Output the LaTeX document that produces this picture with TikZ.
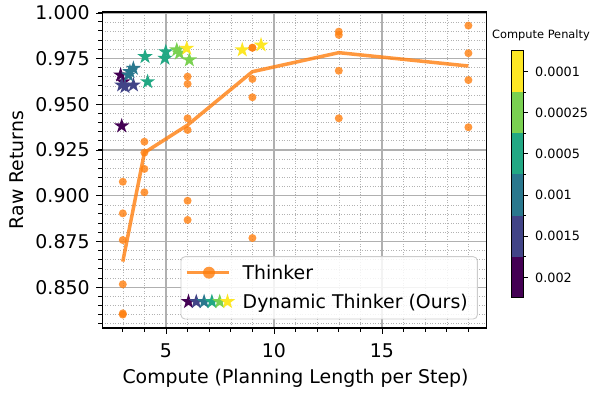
\documentclass[tikz,border=0pt]{standalone}
\usepackage{fontspec}
\setmainfont{DejaVu Sans}
\usetikzlibrary{shapes.geometric}
\definecolor{thk}{HTML}{FF7F0E}
\definecolor{va}{HTML}{440154}
\definecolor{vb}{HTML}{414487}
\definecolor{vc}{HTML}{2A788E}
\definecolor{vd}{HTML}{22A884}
\definecolor{ve}{HTML}{7AD151}
\definecolor{vf}{HTML}{FDE725}
\definecolor{gmaj}{HTML}{B0B0B0}
\begin{document}
\begin{tikzpicture}[x=1pt,y=-1pt,
  mainfont/.style={font=\fontsize{18.9pt}{22pt}\selectfont},
  cbfont/.style={font=\fontsize{12.8pt}{15pt}\selectfont},
  majgrid/.style={draw=gmaj, line width=1.3pt},
  mingrid/.style={draw=gray!60, line width=0.6pt, dash pattern=on 1pt off 1.6pt},
  tickline/.style={draw=black, line width=1pt},
  dot/.style={circle, fill=thk, fill opacity=0.8, minimum size=8pt, inner sep=0pt, outer sep=0pt},
  vstar/.style={star, star points=5, star point ratio=2.618, fill=#1, inner sep=0pt, outer sep=0pt, minimum size=16pt},
  thkline/.style={draw=thk, draw opacity=0.8, line width=3.5pt, line join=round},
  cbseg/.style={fill=#1, draw=none}
]
\useasboundingbox (0,0) rectangle (590,393);
\fill[white] (0,0) rectangle (590,393);

\begin{scope}[shift={(58,1841)}, x=21.6pt, y=1828pt]
  % minor grid
  \foreach \k in {3,4,6,7,8,9,11,12,13,14,16,17,18,19}
    \draw[mingrid] (\k,0.8277) -- (\k,1.0005);
  \foreach \k in {0,...,34}
    \draw[mingrid] (2.05,{0.830+0.005*\k}) -- (19.85,{0.830+0.005*\k});
  % major grid
  \foreach \k in {5,10,15}
    \draw[majgrid] (\k,0.8277) -- (\k,1.0005);
  \foreach \k in {0,...,6}
    \draw[majgrid] (2.05,{0.850+0.025*\k}) -- (19.85,{0.850+0.025*\k});

  % Dynamic Thinker stars
  \node[vstar=va] (sa1) at (2.95,0.9382) {};
  \node[vstar=va] (sa2) at (2.90,0.9661) {};
  \node[vstar=va] (sa3) at (3.02,0.9624) {};
  \node[vstar=vb] (sb1) at (3.10,0.9597) {};
  \node[vstar=vb] (sb2) at (3.49,0.9606) {};
  \node[vstar=vb] (sb3) at (2.95,0.9606) {};
  \node[vstar=vc] (sc1) at (3.26,0.9661) {};
  \node[vstar=vc] (sc2) at (3.33,0.9679) {};
  \node[vstar=vc] (sc3) at (3.49,0.9697) {};
  \node[vstar=vd] (sd1) at (4.03,0.9761) {};
  \node[vstar=vd] (sd2) at (4.15,0.9624) {};
  \node[vstar=vd] (sd3) at (4.99,0.9788) {};
  \node[vstar=vd] (sd4) at (4.95,0.9752) {};
  \node[vstar=ve] (se1) at (5.50,0.9798) {};
  \node[vstar=ve] (se2) at (5.62,0.9780) {};
  \node[vstar=ve] (se3) at (6.08,0.9743) {};
  \node[vstar=vf] (sf1) at (5.96,0.9807) {};
  \node[vstar=vf] (sf2) at (8.53,0.9798) {};
  \node[vstar=vf] (sf3) at (9.40,0.9825) {};

  % Thinker scatter
  \foreach \px/\py [count=\i] in {
    3/0.9077,3/0.8904,3/0.8758,3/0.8516,3/0.8357,3/0.8350,
    4/0.9296,4/0.9236,4/0.9147,4/0.9019,
    6/0.9652,6/0.9612,6/0.9424,6/0.9360,6/0.8973,6/0.8868,
    9/0.9810,9/0.9810,9/0.9639,9/0.9539,9/0.8769,
    13/0.9898,13/0.9880,13/0.9684,13/0.9424,
    19/0.9931,19/0.9780,19/0.9633,19/0.9375}
    \node[dot] (d\i) at (\px,\py) {};

  % Thinker mean line
  \coordinate (m1) at (3,0.8640);
  \coordinate (m2) at (4,0.9236);
  \coordinate (m3) at (6,0.9387);
  \coordinate (m4) at (9,0.9679);
  \coordinate (m5) at (13,0.9783);
  \coordinate (m6) at (19,0.9710);
  \draw[thkline] (m1) -- (m2) -- (m3) -- (m4) -- (m5) -- (m6);

  % ticks
  \foreach \k in {3,4,6,7,8,9,11,12,13,14,16,17,18,19}
    \draw[tickline] (\k,0.8277) -- ++(0pt,-4pt);
  \foreach \k in {5,10,15}
    \draw[tickline] (\k,0.8277) -- ++(0pt,-6pt);
  \foreach \k in {0,...,34}
    \draw[tickline] (2.05,{0.830+0.005*\k}) -- ++(-4pt,0pt);
  \foreach \k in {0,...,6}
    \draw[tickline] (2.05,{0.850+0.025*\k}) -- ++(-6pt,0pt);

  % tick labels
  \foreach \v/\t in {5/5,10/10,15/15}
    \node[mainfont, anchor=base, inner sep=0pt, yshift=-29.5pt] (xl\v) at (\v,0.8277) {\t};
  \foreach \v/\t [count=\i] in {0.850/0.850,0.875/0.875,0.900/0.900,0.925/0.925,0.950/0.950,0.975/0.975,1.000/1.000}
    \node[mainfont, anchor=east, inner sep=0pt, xshift=-12.5pt] (yl\i) at (2.05,\v) {\t};

  % frame
  \draw[line width=1.3pt] (2.05,0.8277) rectangle (19.85,1.0005);
\end{scope}

% axis labels
\node[mainfont, anchor=base, inner sep=0pt] (xlab) at (295.5,384) {Compute (Planning Length per Step)};
\node[mainfont, rotate=90, inner sep=0pt] (ylab) at (17,170) {Raw Returns};

% legend
\draw[draw=gray!40, line width=0.9pt, fill=white, fill opacity=0.85, rounded corners=4pt] (181,256.7) rectangle (477.3,319);
\coordinate (la) at (186.7,272.7);
\coordinate (lb) at (229.3,272.7);
\draw[thkline] (la) -- (lb);
\node[circle, fill=thk, fill opacity=0.8, minimum size=12pt, inner sep=0pt] (lm) at (209,272.7) {};
\node[mainfont, anchor=base west, inner sep=0pt] (lt1) at (242.5,279.5) {Thinker};
\node[vstar=va] (ls1) at (188.5,301.7) {};
\node[vstar=vb] (ls2) at (196.3,301.7) {};
\node[vstar=vc] (ls3) at (204.1,301.7) {};
\node[vstar=vd] (ls4) at (211.9,301.7) {};
\node[vstar=ve] (ls5) at (219.7,301.7) {};
\node[vstar=vf] (ls6) at (227.5,301.7) {};
\node[mainfont, anchor=base west, inner sep=0pt] (lt2) at (242.5,308.3) {Dynamic Thinker (Ours)};

% colorbar
\fill[cbseg=vf] (511,51) rectangle (523,92.2);
\fill[cbseg=ve] (511,92.2) rectangle (523,133.3);
\fill[cbseg=vd] (511,133.3) rectangle (523,174.5);
\fill[cbseg=vc] (511,174.5) rectangle (523,215.7);
\fill[cbseg=vb] (511,215.7) rectangle (523,256.8);
\fill[cbseg=va] (511,256.8) rectangle (523,298);
\draw[line width=1pt] (511,51) rectangle (523,298);
\foreach \yy in {92.2,133.3,174.5,215.7,256.8}
  \draw[tickline] (523,\yy) -- ++(2.5,0);
\foreach \yy/\t [count=\i] in {71.6/0.0001,112.7/0.00025,153.9/0.0005,195.1/0.001,236.2/0.0015,277.4/0.002}{
  \draw[tickline] (523,\yy) -- ++(5,0);
  \node[cbfont, anchor=west, inner sep=0pt] (cb\i) at (535,\yy) {\t};
}
\node[font=\fontsize{11.4pt}{13pt}\selectfont, anchor=base, inner sep=0pt] (cbt) at (541,38.3) {Compute Penalty};
\end{tikzpicture}
\end{document}
